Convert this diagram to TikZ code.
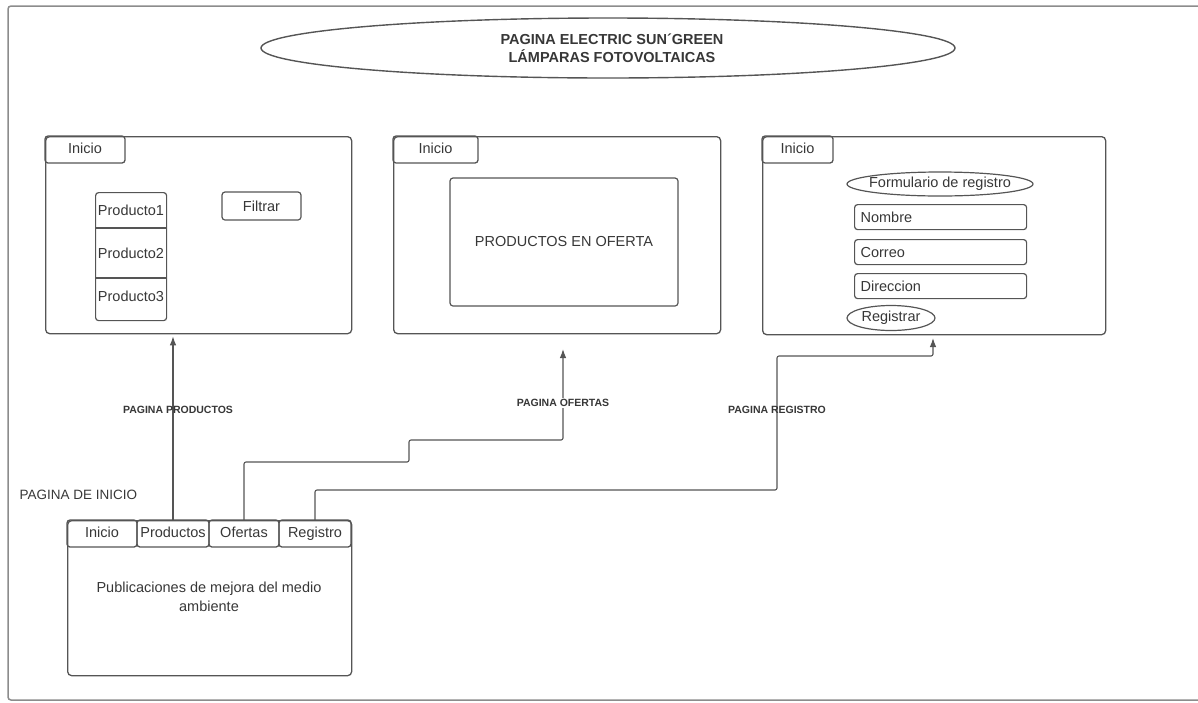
\documentclass[tikz,border=0pt]{standalone}
\usepackage{fontspec}
\setmainfont{Liberation Sans}
\usetikzlibrary{positioning, shapes.geometric, arrows.meta}
\definecolor{linegray}{RGB}{85,85,85}
\definecolor{textgray}{RGB}{55,55,55}
\definecolor{framegray}{RGB}{140,140,140}

\begin{document}
\begin{tikzpicture}[x=1pt,y=-1pt,
  font=\fontsize{14.5}{17}\selectfont, text=textgray,
  panel/.style={draw=linegray, line width=1.3pt, rounded corners=4pt, inner sep=0pt, anchor=north west},
  tab/.style={draw=linegray, line width=1.3pt, rounded corners=3pt, inner sep=0pt, outer sep=0pt,
    anchor=north west, minimum height=27, text height=10.5pt, text depth=3.5pt},
  field/.style={draw=linegray, line width=1.2pt, rounded corners=3pt, inner sep=0pt},
  pill/.style={draw=linegray, line width=1.2pt, ellipse, inner sep=0pt},
  lbl/.style={font=\fontsize{10.5}{12}\selectfont\bfseries, inner sep=1pt},
  link/.style={draw=linegray, line width=1.1pt, rounded corners=2pt, -{Latex[length=9pt,width=6.5pt]}}
]
\useasboundingbox (0,0) rectangle (1198,702);
\draw[framegray, line width=1.5pt, rounded corners=3pt] (1198,6) -- (8,6) -- (8,700) -- (1198,700);

% title
\node[pill, line width=1.4pt, minimum width=694, minimum height=60, align=center,
  font=\fontsize{14.5}{18}\selectfont\bfseries] (title) at (608,48)
  {\hspace*{8pt}PAGINA ELECTRIC SUN´GREEN\\\hspace*{8pt}LÁMPARAS FOTOVOLTAICAS};

% pagina productos
\node[panel, minimum width=306, minimum height=197] (pprod) at (45,136) {};
\node[tab, minimum width=80] (tprod) at (pprod.north west) {Inicio};
\node[field, anchor=north west, minimum width=71, minimum height=128] (plist) at (95,192) {};
\draw[linegray, line width=1.2pt] (95,228) -- (166,228) (95,278) -- (166,278);
\node (prod1) at (131,210) {Producto1};
\node (prod2) at (131,253) {Producto2};
\node (prod3) at (131,296) {Producto3};
\node[field, minimum width=79, minimum height=28] (filtrar) at (261.5,206) {Filtrar};

% pagina ofertas
\node[panel, minimum width=327, minimum height=197] (pofer) at (393,136) {};
\node[tab, minimum width=85] (tofer) at (pofer.north west) {Inicio};
\node[field, minimum width=228, minimum height=128] (oferta) at (564,242) {PRODUCTOS EN OFERTA};

% pagina registro
\node[panel, minimum width=343, minimum height=198] (preg) at (762,136) {};
\node[tab, minimum width=71] (treg) at (preg.north west) {Inicio};
\node[pill, minimum width=186, minimum height=24] (form) at (940,184) {\makebox[0pt]{Formulario de registro}};
\node[field, anchor=north west, minimum height=25, text width=160, inner xsep=6pt, align=left] (nombre) at (854,204) {\raisebox{-2pt}{Nombre}};
\node[field, anchor=north west, minimum height=25, text width=160, inner xsep=6pt, align=left] (correo) at (854,239) {\raisebox{-3pt}{Correo}};
\node[field, anchor=north west, minimum height=25, text width=160, inner xsep=6pt, align=left] (direc) at (854,273) {\raisebox{-3pt}{Direccion}};
\node[pill, minimum width=88, minimum height=25] (registrar) at (891,318) {\makebox[0pt]{Registrar}};

% pagina de inicio
\node[anchor=west, font=\fontsize{13.5}{16}\selectfont] (inicio) at (16,495) {PAGINA DE INICIO};
\node[panel, minimum width=284, minimum height=155] (home) at (67,520) {};
\node[tab, minimum width=70] (bini) at (home.north west) {Inicio};
\node[tab, minimum width=72, right=0pt of bini] (bprod) {Productos};
\node[tab, minimum width=70, right=0pt of bprod] (bofer) {Ofertas};
\node[tab, minimum width=72, right=0pt of bofer] (breg) {Registro};
\node[align=center, font=\fontsize{14.5}{19}\selectfont] (pub) at (209,597)
  {Publicaciones de mejora del medio\\ambiente};

% enlaces
\coordinate (ofend) at (563,349);
\coordinate (regend) at (933,338);
\draw[link] (bprod.north) -- ([yshift=-2pt]bprod.north |- pprod.south);
\draw[link] (bofer.north) |- (409,462) |- (563,440) -- (ofend);
\draw[link] (breg.north) |- (777,490) |- (933,356) -- (regend);
\node[lbl] (lprod) at (178,410) {PAGINA PRODUCTOS};
\node[lbl, fill=white] (lofer) at (563,403) {PAGINA OFERTAS};
\node[lbl] (lreg) at (777,410) {PAGINA REGISTRO};
\end{tikzpicture}
\end{document}
